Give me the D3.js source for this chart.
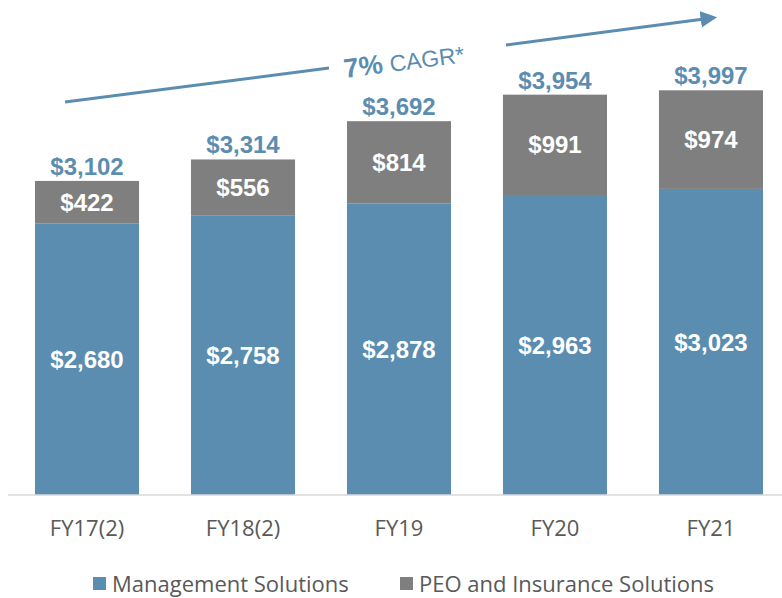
<!DOCTYPE html>
<meta charset="UTF-8">
<style>
    body { margin: 0; background: #fff; }
    text { font-family: "Liberation Sans", Arial, sans-serif; }
    .tick, .legend { font-family: "Open Sans", "Noto Sans", sans-serif; fill: #595959; }
</style>
<body>
<script src="https://d3js.org/d3.v7.min.js"></script>
<script>

    // chart data
    var categories = ["FY17(2)", "FY18(2)", "FY19", "FY20", "FY21"];
    var mgmt = [2680, 2758, 2878, 2963, 3023];
    var peo = [422, 556, 814, 991, 974];
    var totals = [3102, 3314, 3692, 3954, 3997];
    var seriesNames = ["Management Solutions", "PEO and Insurance Solutions"];

    var blue = "#5b8db1",
        grey = "#7f7f7f";

    var width = 782, height = 598;

    var svg = d3.select("body").append("svg")
        .attr("width", width)
        .attr("height", height);

    // set the ranges
    var x = d3.scaleBand()
        .domain(categories)
        .range([9, 789])
        .paddingInner(0.333)
        .paddingOuter(0.1667);
    var y = d3.scaleLinear().domain([0, 4000]).range([495, 90]);

    var fmt = function(v) { return "$" + d3.format(",")(v); };

    var data = categories.map(function(c, i) {
        return {cat: c, mgmt: mgmt[i], peo: peo[i], total: totals[i]};
    });

    // blue bars
    svg.selectAll(".mgmt")
        .data(data)
    .enter().append("rect")
        .attr("class", "mgmt")
        .attr("x", function(d) { return x(d.cat); })
        .attr("width", x.bandwidth())
        .attr("y", function(d) { return y(d.mgmt); })
        .attr("height", function(d) { return y(0) - y(d.mgmt); })
        .attr("fill", blue);

    // grey bars
    svg.selectAll(".peo")
        .data(data)
    .enter().append("rect")
        .attr("class", "peo")
        .attr("x", function(d) { return x(d.cat); })
        .attr("width", x.bandwidth())
        .attr("y", function(d) { return y(d.mgmt + d.peo); })
        .attr("height", function(d) { return y(d.mgmt) - y(d.mgmt + d.peo); })
        .attr("fill", grey);

    // labels inside bars
    svg.selectAll(".mlab")
        .data(data)
    .enter().append("text")
        .attr("x", function(d) { return x(d.cat) + x.bandwidth() / 2; })
        .attr("y", function(d) { return y(d.mgmt / 2); })
        .attr("dy", "0.36em")
        .attr("text-anchor", "middle")
        .attr("fill", "white")
        .attr("font-weight", "bold")
        .attr("font-size", 24)
        .text(function(d) { return fmt(d.mgmt); });

    svg.selectAll(".plab")
        .data(data)
    .enter().append("text")
        .attr("x", function(d) { return x(d.cat) + x.bandwidth() / 2; })
        .attr("y", function(d) { return y(d.mgmt + d.peo / 2); })
        .attr("dy", "0.36em")
        .attr("text-anchor", "middle")
        .attr("fill", "white")
        .attr("font-weight", "bold")
        .attr("font-size", 24)
        .text(function(d) { return fmt(d.peo); });

    // totals above bars
    svg.selectAll(".tlab")
        .data(data)
    .enter().append("text")
        .attr("x", function(d) { return x(d.cat) + x.bandwidth() / 2; })
        .attr("y", function(d) { return y(d.total) - 6; })
        .attr("text-anchor", "middle")
        .attr("fill", blue)
        .attr("font-weight", "bold")
        .attr("font-size", 24)
        .text(function(d) { return fmt(d.total); });

    // x axis
    var xAxis = svg.append("g")
        .attr("transform", "translate(0,495)")
        .call(d3.axisBottom(x).tickSize(0).tickPadding(25));
    xAxis.select(".domain").attr("stroke", "#d9d9d9").attr("stroke-width", 1.5)
        .attr("d", "M8,0H782");
    xAxis.selectAll("text")
        .attr("class", "tick")
        .attr("font-size", 22)
        .attr("fill", "#595959")
        .style("font-family", "'Open Sans', 'Noto Sans', sans-serif");

    // CAGR arrow
    svg.append("defs").append("marker")
        .attr("id", "head")
        .attr("viewBox", "0 0 10 10")
        .attr("refX", 2).attr("refY", 5)
        .attr("markerWidth", 5.5).attr("markerHeight", 5.5)
        .attr("orient", "auto")
      .append("path")
        .attr("d", "M0,0L10,5L0,10z")
        .attr("fill", blue);

    svg.append("line")
        .attr("x1", 65).attr("y1", 102).attr("x2", 329).attr("y2", 68)
        .attr("stroke", blue).attr("stroke-width", 3);
    svg.append("line")
        .attr("x1", 506).attr("y1", 45).attr("x2", 704).attr("y2", 19)
        .attr("stroke", blue).attr("stroke-width", 3)
        .attr("marker-end", "url(#head)");

    var cagr = svg.append("text")
        .attr("transform", "translate(345,78) rotate(-7.5)")
        .attr("fill", blue);
    cagr.append("tspan").attr("font-weight", "bold").attr("font-size", 27).text("7%");
    cagr.append("tspan").attr("font-size", 23).attr("dx", 7).text("CAGR*");

    // legend
    var legend = svg.append("g");
    var lx = [93, 400];
    seriesNames.forEach(function(name, i) {
        legend.append("rect")
            .attr("x", lx[i]).attr("y", 577)
            .attr("width", 13).attr("height", 13)
            .attr("fill", i === 0 ? blue : grey);
        legend.append("text")
            .attr("class", "legend")
            .attr("x", lx[i] + 19).attr("y", 592)
            .attr("font-size", 22)
            .text(name);
    });

</script>
</body>
